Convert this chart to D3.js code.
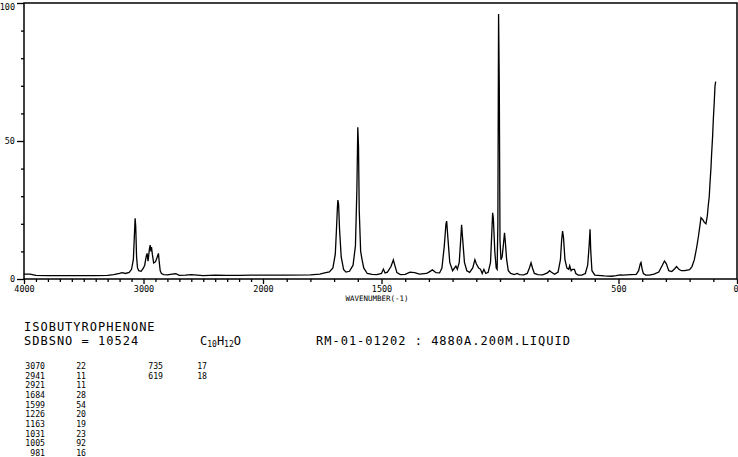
<!DOCTYPE html>
<html>
<head>
<meta charset="utf-8">
<script src="https://cdn.jsdelivr.net/npm/d3@7"></script>
<style>
  html, body { margin: 0; padding: 0; background: #fff; }
  svg { display: block; }
  text { fill: #000; }
</style>
</head>
<body>
<svg id="chart" width="738" height="457"></svg>
<script>
// ---- data ----
const wavenumbers = [
  4000, 3950, 3900, 3800, 3700, 3600, 3500, 3400, 3300, 3250, 3200, 3180, 3150, 3120, 3100,
  3085, 3075, 3070, 3065, 3058, 3050, 3040, 3020, 3000, 2990, 2978, 2970, 2962, 2950, 2944,
  2938, 2933, 2926, 2915, 2900, 2885, 2875, 2868, 2860, 2850, 2830, 2800, 2760, 2730, 2700,
  2650, 2600, 2500, 2400, 2300, 2200, 2100, 2000,
  1900, 1800, 1760, 1740, 1720, 1705, 1695, 1690, 1686, 1684, 1681, 1677, 1670, 1660, 1650,
  1635, 1620, 1610, 1604, 1600, 1597, 1594, 1588, 1582, 1575, 1560, 1540, 1520, 1500, 1492,
  1485, 1475, 1460, 1450, 1444, 1435, 1420, 1400, 1380, 1360, 1340, 1310, 1300, 1285, 1270,
  1255, 1245, 1235, 1228, 1225, 1220, 1212, 1200, 1186, 1180, 1172, 1166, 1162, 1158, 1150,
  1140, 1128, 1115, 1106, 1100, 1090, 1082, 1075, 1068, 1060, 1050, 1040, 1034, 1031, 1028,
  1022, 1016, 1012, 1009, 1006, 1003, 1000, 996, 991, 985, 981, 978, 972, 965, 955,
  940, 928, 918, 900, 885, 876, 869, 863, 855, 840, 820, 800, 791, 784, 770,
  755, 745, 740, 736, 732, 726, 718, 710, 706, 700, 694, 686, 680, 670, 655,
  640, 630, 624, 620, 617, 612, 600, 560, 530, 510, 493, 480, 450, 425, 415,
  408, 405, 400, 395, 385, 370, 350, 330, 315, 306, 298, 288, 275, 262, 255,
  245, 235, 220, 200, 190, 180, 170, 163, 157, 152, 145, 138, 131, 125, 122,
  117, 114, 110, 107, 103, 100, 96, 93, 90
];
const intensities = [
  1.8, 1.8, 1.3, 1.2, 1.2, 1.2, 1.2, 1.2, 1.3, 1.6, 2.0, 2.3, 2.0, 2.4, 3.5,
  7, 17, 22, 19, 8, 4, 3, 2.8, 4, 5, 8, 9.3, 6.5, 11, 12.3,
  10, 11.6, 9, 5.8, 6.2, 8, 9.3, 6, 3, 2, 1.6, 1.5, 1.8, 1.9, 1.3,
  1.4, 1.6, 1.2, 1.4, 1.3, 1.3, 1.4, 1.4,
  1.4, 1.5, 1.8, 2.2, 2.6, 4, 9, 18, 26, 28.6, 27, 18, 8, 3.5, 2.5,
  2.8, 5, 12, 32, 55, 48, 25, 10, 7, 4, 2, 1.7, 1.6, 2, 3.6,
  2.2, 2.5, 4.5, 6.9, 5, 2.3, 1.6, 1.7, 2.5, 2.3, 1.8, 2, 2.5, 3.3, 2.3,
  2.2, 4, 12, 20, 21, 15, 6, 3, 4.7, 3.5, 6, 14, 19.6, 15, 6,
  3, 2.4, 4, 7, 5.5, 4, 3.5, 2, 3.5, 2, 2.4, 6, 18, 24, 22,
  10, 4, 3.5, 20, 96, 70, 14, 7, 8, 13, 16.7, 14, 7, 3, 2,
  1.6, 2, 1.6, 1.5, 2, 4, 5.9, 4, 2, 1.6, 1.5, 2.2, 3, 2.5, 1.7,
  2.5, 7, 14, 17.4, 15, 7, 4, 3.5, 4.8, 3, 3.5, 3.5, 2, 1.4, 1.4,
  2, 5, 12, 18, 10, 3, 1.4, 1.1, 1.0, 1.2, 1.5, 1.4, 1.6, 1.7, 3,
  5.5, 6, 3.5, 2, 1.4, 1.4, 1.8, 2.5, 5, 6.5, 5.5, 3, 2.7, 3.8, 4.5,
  3.5, 3, 3, 3.4, 4.5, 7, 11.5, 15.3, 19, 22.2, 21.6, 20.5, 20, 23, 26,
  30, 34.7, 40, 45.5, 51.5, 57.6, 64, 69.7, 71.5
];
const xMajorTicks = [4000, 3000, 2000, 1500, 500, 0];
const xMajorLabels = ["4000", "3000", "2000", "1500", "500", "0"];
const yMajorTicks = [0, 50, 100];
const yMajorLabels = ["0", "50", "100"];
const compoundName = "ISOBUTYROPHENONE";
const sdbsLine = "SDBSNO = 10524";
const measureLine = "RM-01-01202 : 4880A.200M.LIQUID";
const peakWN1 = ["3070", "2941", "2921", "1684", "1599", "1226", "1163", "1031", "1005", "981"];
const peakInt1 = ["22", "11", "11", "28", "54", "20", "19", "23", "92", "16"];
const peakWN2 = ["735", "619"];
const peakInt2 = ["17", "18"];

// ---- drawing ----
const svg = d3.select("#chart");
const mono = "'DejaVu Sans Mono', 'Liberation Mono', monospace";

const x = d3.scaleLinear().domain([4000, 2000, 0]).range([24, 263, 737]);
const y = d3.scaleLinear().domain([0, 100]).range([279, 3]);

// minor x ticks
const xMinor = d3.range(4000, 1999, -100).concat(d3.range(1900, -1, -100))
  .filter(v => !xMajorTicks.includes(v));
const gxMinor = svg.append("g").attr("transform", `translate(0,${y(0)})`)
  .call(d3.axisBottom(x).tickValues(xMinor).tickSize(3).tickFormat(""));
gxMinor.select(".domain").remove();
gxMinor.selectAll("line").attr("stroke", "#000").attr("stroke-width", 1.3);

const gxMajor = svg.append("g").attr("transform", `translate(0,${y(0)})`)
  .call(d3.axisBottom(x).tickValues(xMajorTicks).tickSize(5).tickPadding(2)
    .tickFormat((d, i) => xMajorLabels[i]));
gxMajor.select(".domain").remove();
gxMajor.selectAll("line").attr("stroke", "#000").attr("stroke-width", 1.3);
gxMajor.selectAll("text").attr("font-family", mono).attr("font-size", 8.5).attr("fill", "#000")
  .filter(d => d === 0).attr("text-anchor", "end").attr("x", 1);

// minor y ticks
const yMinor = d3.range(10, 100, 10).filter(v => !yMajorTicks.includes(v));
const gyMinor = svg.append("g").attr("transform", `translate(24,0)`)
  .call(d3.axisLeft(y).tickValues(yMinor).tickSize(3).tickFormat(""));
gyMinor.select(".domain").remove();
gyMinor.selectAll("line").attr("stroke", "#000").attr("stroke-width", 1.3);

const gyMajor = svg.append("g").attr("transform", `translate(24,0)`)
  .call(d3.axisLeft(y).tickValues(yMajorTicks).tickSize(7).tickPadding(2)
    .tickFormat((d, i) => yMajorLabels[i]));
gyMajor.select(".domain").remove();
gyMajor.selectAll("line").attr("stroke", "#000").attr("stroke-width", 1.3);
gyMajor.selectAll("text").attr("font-family", mono).attr("font-size", 8.5).attr("fill", "#000")
  .filter(d => d === 100).attr("dy", "0.72em");

// frame
svg.append("path")
  .attr("d", `M${x(4000)},${y(0)}V${y(100)}H${x(0)}V${y(0)}H${x(4000)}`)
  .attr("fill", "none").attr("stroke", "#000").attr("stroke-width", 1.5);

// spectrum
const pts = wavenumbers.map((w, i) => [w, intensities[i]]);
const line = d3.line().x(d => x(d[0])).y(d => y(d[1]));
svg.append("path").datum(pts).attr("d", line)
  .attr("fill", "none").attr("stroke", "#000").attr("stroke-width", 1.3)
  .attr("stroke-linejoin", "miter");

// axis title
svg.append("text").attr("x", 377).attr("y", 301).attr("text-anchor", "middle")
  .attr("font-family", mono).attr("font-size", 7.5).text("WAVENUMBER(-1)");

// header text
const big = { "font-family": mono, "font-size": 12, "letter-spacing": 1.0 };
function bigText(t, xx, yy) {
  const el = svg.append("text").attr("x", xx).attr("y", yy).text(t);
  Object.entries(big).forEach(([k, v]) => el.attr(k, v));
  return el;
}
bigText(compoundName, 24, 331);
bigText(sdbsLine, 24, 345);
bigText(measureLine, 316, 345);

const formula = svg.append("text").attr("x", 200).attr("y", 345)
  .attr("font-family", mono).attr("font-size", 12);
formula.append("tspan").text("C");
formula.append("tspan").attr("font-size", 8).attr("dy", 2).text("10");
formula.append("tspan").attr("dy", -2).text("H");
formula.append("tspan").attr("font-size", 8).attr("dy", 2).text("12");
formula.append("tspan").attr("dy", -2).text("O");

// peak table
const rowY = i => 369 + i * 9.65;
const small = (t, xx, yy) => svg.append("text").attr("x", xx).attr("y", yy)
  .attr("text-anchor", "end").attr("font-family", mono).attr("font-size", 8.2).text(t);
peakWN1.forEach((t, i) => small(t, 45, rowY(i)));
peakInt1.forEach((t, i) => small(t, 86, rowY(i)));
peakWN2.forEach((t, i) => small(t, 163, rowY(i)));
peakInt2.forEach((t, i) => small(t, 207, rowY(i)));
</script>
</body>
</html>
